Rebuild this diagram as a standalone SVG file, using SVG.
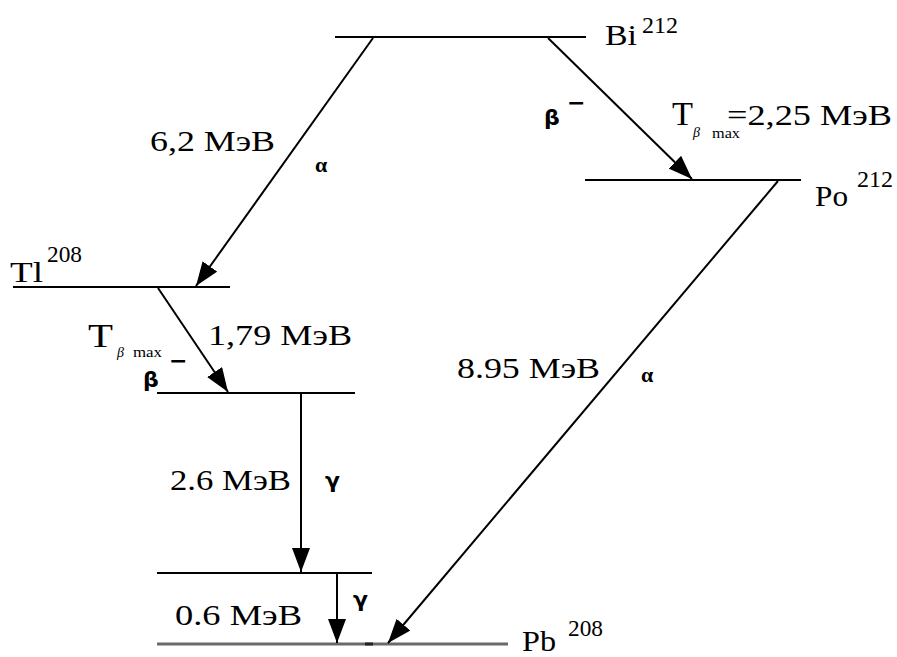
<svg xmlns="http://www.w3.org/2000/svg" width="897" height="657" viewBox="0 0 897 657">
<style>
.lvl{stroke:#000;stroke-width:2;fill:none}
.pb{stroke:#6a6a6a;stroke-width:3;fill:none}
.arr{stroke:#000;stroke-width:2;fill:none;marker-end:url(#ah)}
.t{font-family:"Liberation Serif","Times New Roman",serif;font-size:30px;fill:#000}
.sup{font-family:"Liberation Serif","Times New Roman",serif;font-size:23px;fill:#000}
.T{font-family:"Liberation Serif","Times New Roman",serif;font-size:33px;fill:#000}
.sub{font-family:"Liberation Serif","Times New Roman",serif;font-size:14px;fill:#000}
.gr{font-family:"DejaVu Sans",sans-serif;font-weight:bold;font-size:22px;fill:#000}
.al{font-family:"Liberation Serif","Times New Roman",serif;font-weight:bold;font-size:22px;fill:#000}
</style>
<defs>
<marker id="ah" viewBox="0 0 24 18" refX="24" refY="9" markerWidth="24" markerHeight="18" markerUnits="userSpaceOnUse" orient="auto">
<path d="M0,0 L24,9 L0,18 z" fill="#000"/>
</marker>
</defs>
<rect width="897" height="657" fill="#fff"/>

<g id="bi">
<line class="lvl" x1="335" y1="37" x2="586" y2="37"/>
<text class="t" x="605" y="45" textLength="32" lengthAdjust="spacingAndGlyphs">Bi</text>
<text class="sup" x="642" y="33" textLength="36" lengthAdjust="spacingAndGlyphs">212</text>
</g>

<g id="po">
<line class="lvl" x1="585" y1="180" x2="801" y2="180"/>
<text class="t" x="815" y="206" textLength="33" lengthAdjust="spacingAndGlyphs">Po</text>
<text class="sup" x="857" y="187" textLength="36" lengthAdjust="spacingAndGlyphs">212</text>
</g>

<g id="tl">
<line class="lvl" x1="13" y1="287" x2="230" y2="287"/>
<text class="t" x="10" y="282" textLength="33" lengthAdjust="spacingAndGlyphs">Tl</text>
<text class="sup" x="47" y="262" textLength="35" lengthAdjust="spacingAndGlyphs">208</text>
</g>

<g id="tl-excited">
<line class="lvl" x1="157" y1="393" x2="355" y2="393"/>
</g>

<g id="pb-excited">
<line class="lvl" x1="157" y1="573" x2="372" y2="573"/>
</g>

<g id="pb">
<line class="pb" x1="157" y1="644" x2="508" y2="644"/>
<line x1="365" y1="644" x2="373" y2="644" stroke="#222" stroke-width="3"/>
<text class="t" x="522" y="651" textLength="34" lengthAdjust="spacingAndGlyphs">Pb</text>
<text class="sup" x="568" y="636" textLength="35" lengthAdjust="spacingAndGlyphs">208</text>
</g>

<g id="connectors">
<line class="arr" x1="373" y1="38" x2="196" y2="286"/>
<line class="arr" x1="548" y1="38" x2="692" y2="179"/>
<line class="arr" x1="778" y1="181" x2="388" y2="643"/>
<line class="arr" x1="158" y1="288" x2="228" y2="392"/>
<line class="arr" x1="301" y1="394" x2="301" y2="572"/>
<line class="arr" x1="337" y1="574" x2="337" y2="643"/>
</g>

<g id="labels">
<text class="t" x="150" y="151" textLength="125" lengthAdjust="spacingAndGlyphs">6,2 МэВ</text>
<text class="al" x="315" y="172">α</text>

<text class="gr" x="544" y="125">β</text>
<text class="gr" x="567" y="110" font-size="16">−</text>

<text class="T" x="672" y="125" textLength="21" lengthAdjust="spacingAndGlyphs">T</text>
<text class="sub" x="693" y="137" font-style="italic">β</text>
<text class="sub" x="712" y="138" textLength="28" lengthAdjust="spacingAndGlyphs">max</text>
<text class="t" x="727" y="125" textLength="165" lengthAdjust="spacingAndGlyphs">=2,25 МэВ</text>

<text class="T" x="88" y="347" textLength="25" lengthAdjust="spacingAndGlyphs">T</text>
<text class="sub" x="117" y="357" font-style="italic" fill="#555">β</text>
<text class="sub" x="133" y="357" textLength="29" lengthAdjust="spacingAndGlyphs">max</text>
<text class="t" x="208" y="345" textLength="144" lengthAdjust="spacingAndGlyphs">1,79 МэВ</text>
<text class="gr" x="143" y="387">β</text>
<text class="gr" x="169" y="368" font-size="16">−</text>

<text class="t" x="457" y="378" textLength="143" lengthAdjust="spacingAndGlyphs">8.95 МэВ</text>
<text class="al" x="641" y="382">α</text>

<text class="t" x="170" y="490" textLength="121" lengthAdjust="spacingAndGlyphs">2.6 МэВ</text>
<text class="gr" x="325" y="488" font-size="20">γ</text>

<text class="t" x="175" y="625" textLength="127" lengthAdjust="spacingAndGlyphs">0.6 МэВ</text>
<text class="gr" x="353" y="607" font-size="18">γ</text>
</g>
</svg>
